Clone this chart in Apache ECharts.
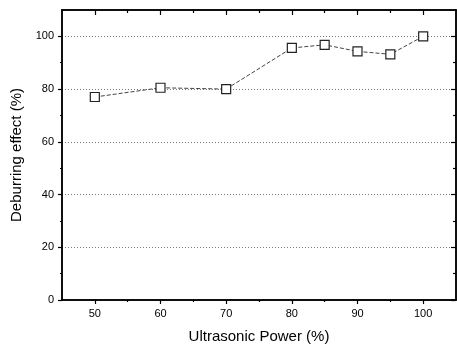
<!DOCTYPE html>
<html>
<head>
<meta charset="utf-8">
<script src="https://cdn.jsdelivr.net/npm/echarts@6/dist/echarts.min.js"></script>
<style>html,body{margin:0;padding:0;background:#fff}#c{width:457px;height:349px}</style>
</head>
<body>
<div id="c"></div>
<script>
var powers = [50, 60, 70, 80, 85, 90, 95, 100];
var effects = [77, 80.5, 80, 95.6, 96.8, 94.3, 93.2, 100];
var xMajorTicks = [50, 60, 70, 80, 90, 100];
var xMinorTicks = [55, 65, 75, 85, 95];
var yMajorTicks = [0, 20, 40, 60, 80, 100];
var yMinorTicks = [10, 30, 50, 70, 90];
var xTitle = 'Ultrasonic Power (%)';
var yTitle = 'Deburring effect (%)';

var FONT = 'Liberation Sans, Arial, sans-serif';
var AX = {lineStyle: {color: '#000', width: 1.5}};
var chart = echarts.init(document.getElementById('c'), null, {renderer: 'canvas'});
function xAx(pos, ticks, len, inside, labels, name) {
  return {
    type: 'value', position: pos, min: 45, max: 105, gridIndex: 0,
    name: name || '', nameLocation: 'middle', nameGap: 29,
    nameTextStyle: {fontFamily: FONT, fontSize: 15, color: '#000'},
    axisLine: {show: true, onZero: false, lineStyle: AX.lineStyle},
    axisTick: {show: true, inside: inside, length: len, customValues: ticks, lineStyle: {color: '#000', width: 1.2}},
    axisLabel: labels ? {show: true, customValues: ticks, margin: 8, fontFamily: FONT, fontSize: 11, color: '#000'} : {show: false},
    splitLine: {show: false}
  };
}
function yAx(pos, ticks, len, inside, labels, grid, name) {
  return {
    type: 'value', position: pos, min: 0, max: 110, gridIndex: 0,
    name: name || '', nameLocation: 'middle', nameGap: 37,
    nameTextStyle: {fontFamily: FONT, fontSize: 15, color: '#000'},
    axisLine: {show: true, onZero: false, lineStyle: AX.lineStyle},
    axisTick: {show: true, inside: inside, length: len, customValues: ticks, lineStyle: {color: '#000', width: 1.2}},
    axisLabel: labels ? {show: true, customValues: ticks, margin: 8, fontFamily: FONT, fontSize: 11, color: '#000'} : {show: false},
    splitLine: grid ? {show: true, customValues: [20,40,60,80,100], lineStyle: {color: '#777', type: [1, 2], width: 1}} : {show: false}
  };
}
chart.setOption({
  animation: false,
  backgroundColor: '#fff',
  grid: {left: 62, right: 1, top: 10, bottom: 49},
  xAxis: [
    xAx('bottom', xMajorTicks, 4, false, true, xTitle),
    xAx('bottom', xMinorTicks, 2, false, false),
    xAx('top', xMajorTicks, 5, true, false),
    xAx('top', xMinorTicks, 3, true, false)
  ],
  yAxis: [
    yAx('left', yMajorTicks, 4, false, true, true, yTitle),
    yAx('left', yMinorTicks, 2, false, false, false),
    yAx('right', yMajorTicks, 5, true, false, false),
    yAx('right', yMinorTicks, 3, true, false, false)
  ],
  series: [{
    type: 'line',
    xAxisIndex: 0, yAxisIndex: 0,
    data: powers.map(function (p, i) { return [p, effects[i]]; }),
    symbol: 'rect', symbolSize: 9,
    lineStyle: {color: '#444', width: 1, type: [4, 2]},
    itemStyle: {color: '#fff', borderColor: '#222', borderWidth: 1.2},
    z: 5
  }]
});
</script>
</body>
</html>
